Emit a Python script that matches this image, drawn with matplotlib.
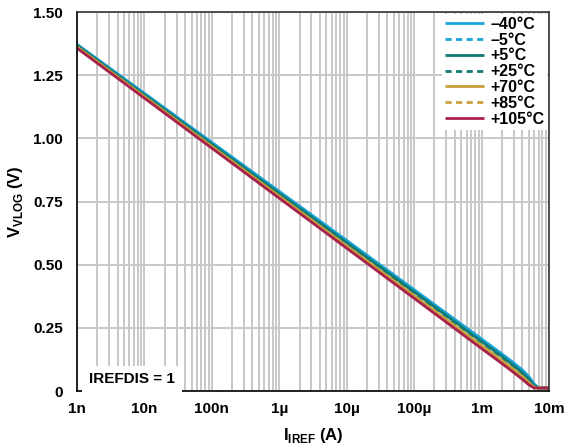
import numpy as np
import matplotlib
matplotlib.use("Agg")
import matplotlib.pyplot as plt
from matplotlib.ticker import LogLocator, FixedLocator, NullFormatter

plt.rcParams["font.family"] = ["Liberation Sans", "DejaVu Sans"]
plt.rcParams["font.weight"] = "bold"
plt.rcParams["mathtext.fontset"] = "custom"
plt.rcParams["mathtext.rm"] = "Liberation Sans:bold"
plt.rcParams["mathtext.bf"] = "Liberation Sans:bold"

# current sweep (A)
i_ref = [1e-9, 1e-8, 1e-7, 1e-6, 1e-5, 1e-4, 1e-3, 2e-3, 3e-3, 4e-3, 5e-3, 6e-3, 7e-3, 1e-2]

# V_VLOG (V) per temperature
v_m40 = [1.372, 1.178, 0.984, 0.790, 0.596, 0.401, 0.206, 0.147, 0.111, 0.084, 0.058, 0.028, 0.012, 0.012]
v_m5 = [1.370, 1.176, 0.981, 0.787, 0.592, 0.398, 0.203, 0.144, 0.108, 0.081, 0.055, 0.026, 0.012, 0.012]
v_p5 = [1.368, 1.172, 0.977, 0.782, 0.587, 0.392, 0.196, 0.137, 0.100, 0.073, 0.047, 0.021, 0.012, 0.012]
v_p25 = [1.366, 1.170, 0.974, 0.779, 0.583, 0.388, 0.192, 0.133, 0.096, 0.069, 0.043, 0.019, 0.012, 0.012]
v_p70 = [1.362, 1.165, 0.968, 0.771, 0.574, 0.377, 0.180, 0.121, 0.085, 0.058, 0.034, 0.015, 0.012, 0.012]
v_p85 = [1.360, 1.163, 0.965, 0.768, 0.570, 0.373, 0.175, 0.116, 0.080, 0.054, 0.030, 0.013, 0.012, 0.012]
v_p105 = [1.357, 1.159, 0.961, 0.763, 0.565, 0.367, 0.168, 0.109, 0.073, 0.047, 0.025, 0.012, 0.012, 0.012]

labels = ["–40°C", "–5°C", "+5°C", "+25°C", "+70°C", "+85°C", "+105°C"]
series = [v_m40, v_m5, v_p5, v_p25, v_p70, v_p85, v_p105]
colors = ["#17a6dc", "#17a6dc", "#127a72", "#127a72", "#c9a03c", "#c9a03c", "#a8214b"]
styles = ["-", (0, (2.2, 1.6)), "-", (0, (2.2, 1.6)), "-", (0, (2.2, 1.6)), "-"]

x_ticks = [1e-9, 1e-8, 1e-7, 1e-6, 1e-5, 1e-4, 1e-3, 1e-2]
x_ticklabels = ["1n", "10n", "100n", "1µ", "10µ", "100µ", "1m", "10m"]
y_ticks = [0, 0.25, 0.5, 0.75, 1.0, 1.25, 1.5]
y_ticklabels = ["0", "0.25", "0.50", "0.75", "1.00", "1.25", "1.50"]

fig = plt.figure(figsize=(5.8, 4.45), dpi=100)
ax = fig.add_axes([0.1328, 0.1213, 0.8138, 0.8517])

for v, lab, c, ls in zip(series, labels, colors, styles):
    ax.plot(i_ref, v, color=c, linestyle=ls, linewidth=2.0, label=lab,
            solid_capstyle="butt")

ax.set_xscale("log")
ax.set_xlim(1e-9, 1e-2)
ax.set_ylim(0, 1.5)
ax.xaxis.set_major_locator(FixedLocator(x_ticks))
ax.set_xticklabels(x_ticklabels)
ax.xaxis.set_minor_locator(LogLocator(base=10, subs=np.arange(2, 10)))
ax.xaxis.set_minor_formatter(NullFormatter())
ax.set_yticks(y_ticks)
ax.set_yticklabels(y_ticklabels)

ax.grid(True, which="both", axis="x", color="#c8c8c8", linewidth=1.4)
ax.grid(True, which="major", axis="y", color="#c8c8c8", linewidth=1.4)
ax.set_axisbelow(True)

ax.tick_params(axis="both", which="both", length=0, labelsize=11)
ax.tick_params(axis="x", pad=8)
ax.tick_params(axis="y", pad=10)
for lbl in ax.get_xticklabels() + ax.get_yticklabels():
    lbl.set_fontweight("bold")

for s in ax.spines.values():
    s.set_linewidth(1.2)
    s.set_color("#333333")
ax.spines["left"].set_color("black")
ax.spines["bottom"].set_color("black")

ax.set_ylabel(r"V$_{\mathrm{VLOG}}$ (V)", fontsize=12, fontweight="bold", labelpad=6)
ax.set_xlabel(r"I$_{\mathrm{IREF}}$ (A)", fontsize=12, fontweight="bold", labelpad=7)

leg = ax.legend(loc="upper right", frameon=True, fancybox=False, framealpha=1,
                facecolor="white", edgecolor="none", borderaxespad=0.1,
                handlelength=2.4, handletextpad=0.4, labelspacing=0.05,
                borderpad=0.2, prop={"weight": "bold", "size": 11.5})

ax.text(0.025, 0.012, "IREFDIS = 1", transform=ax.transAxes, fontsize=11,
        fontweight="bold", ha="left", va="bottom",
        bbox=dict(facecolor="white", edgecolor="none", pad=5))

fig.savefig("out.png", dpi=100)
